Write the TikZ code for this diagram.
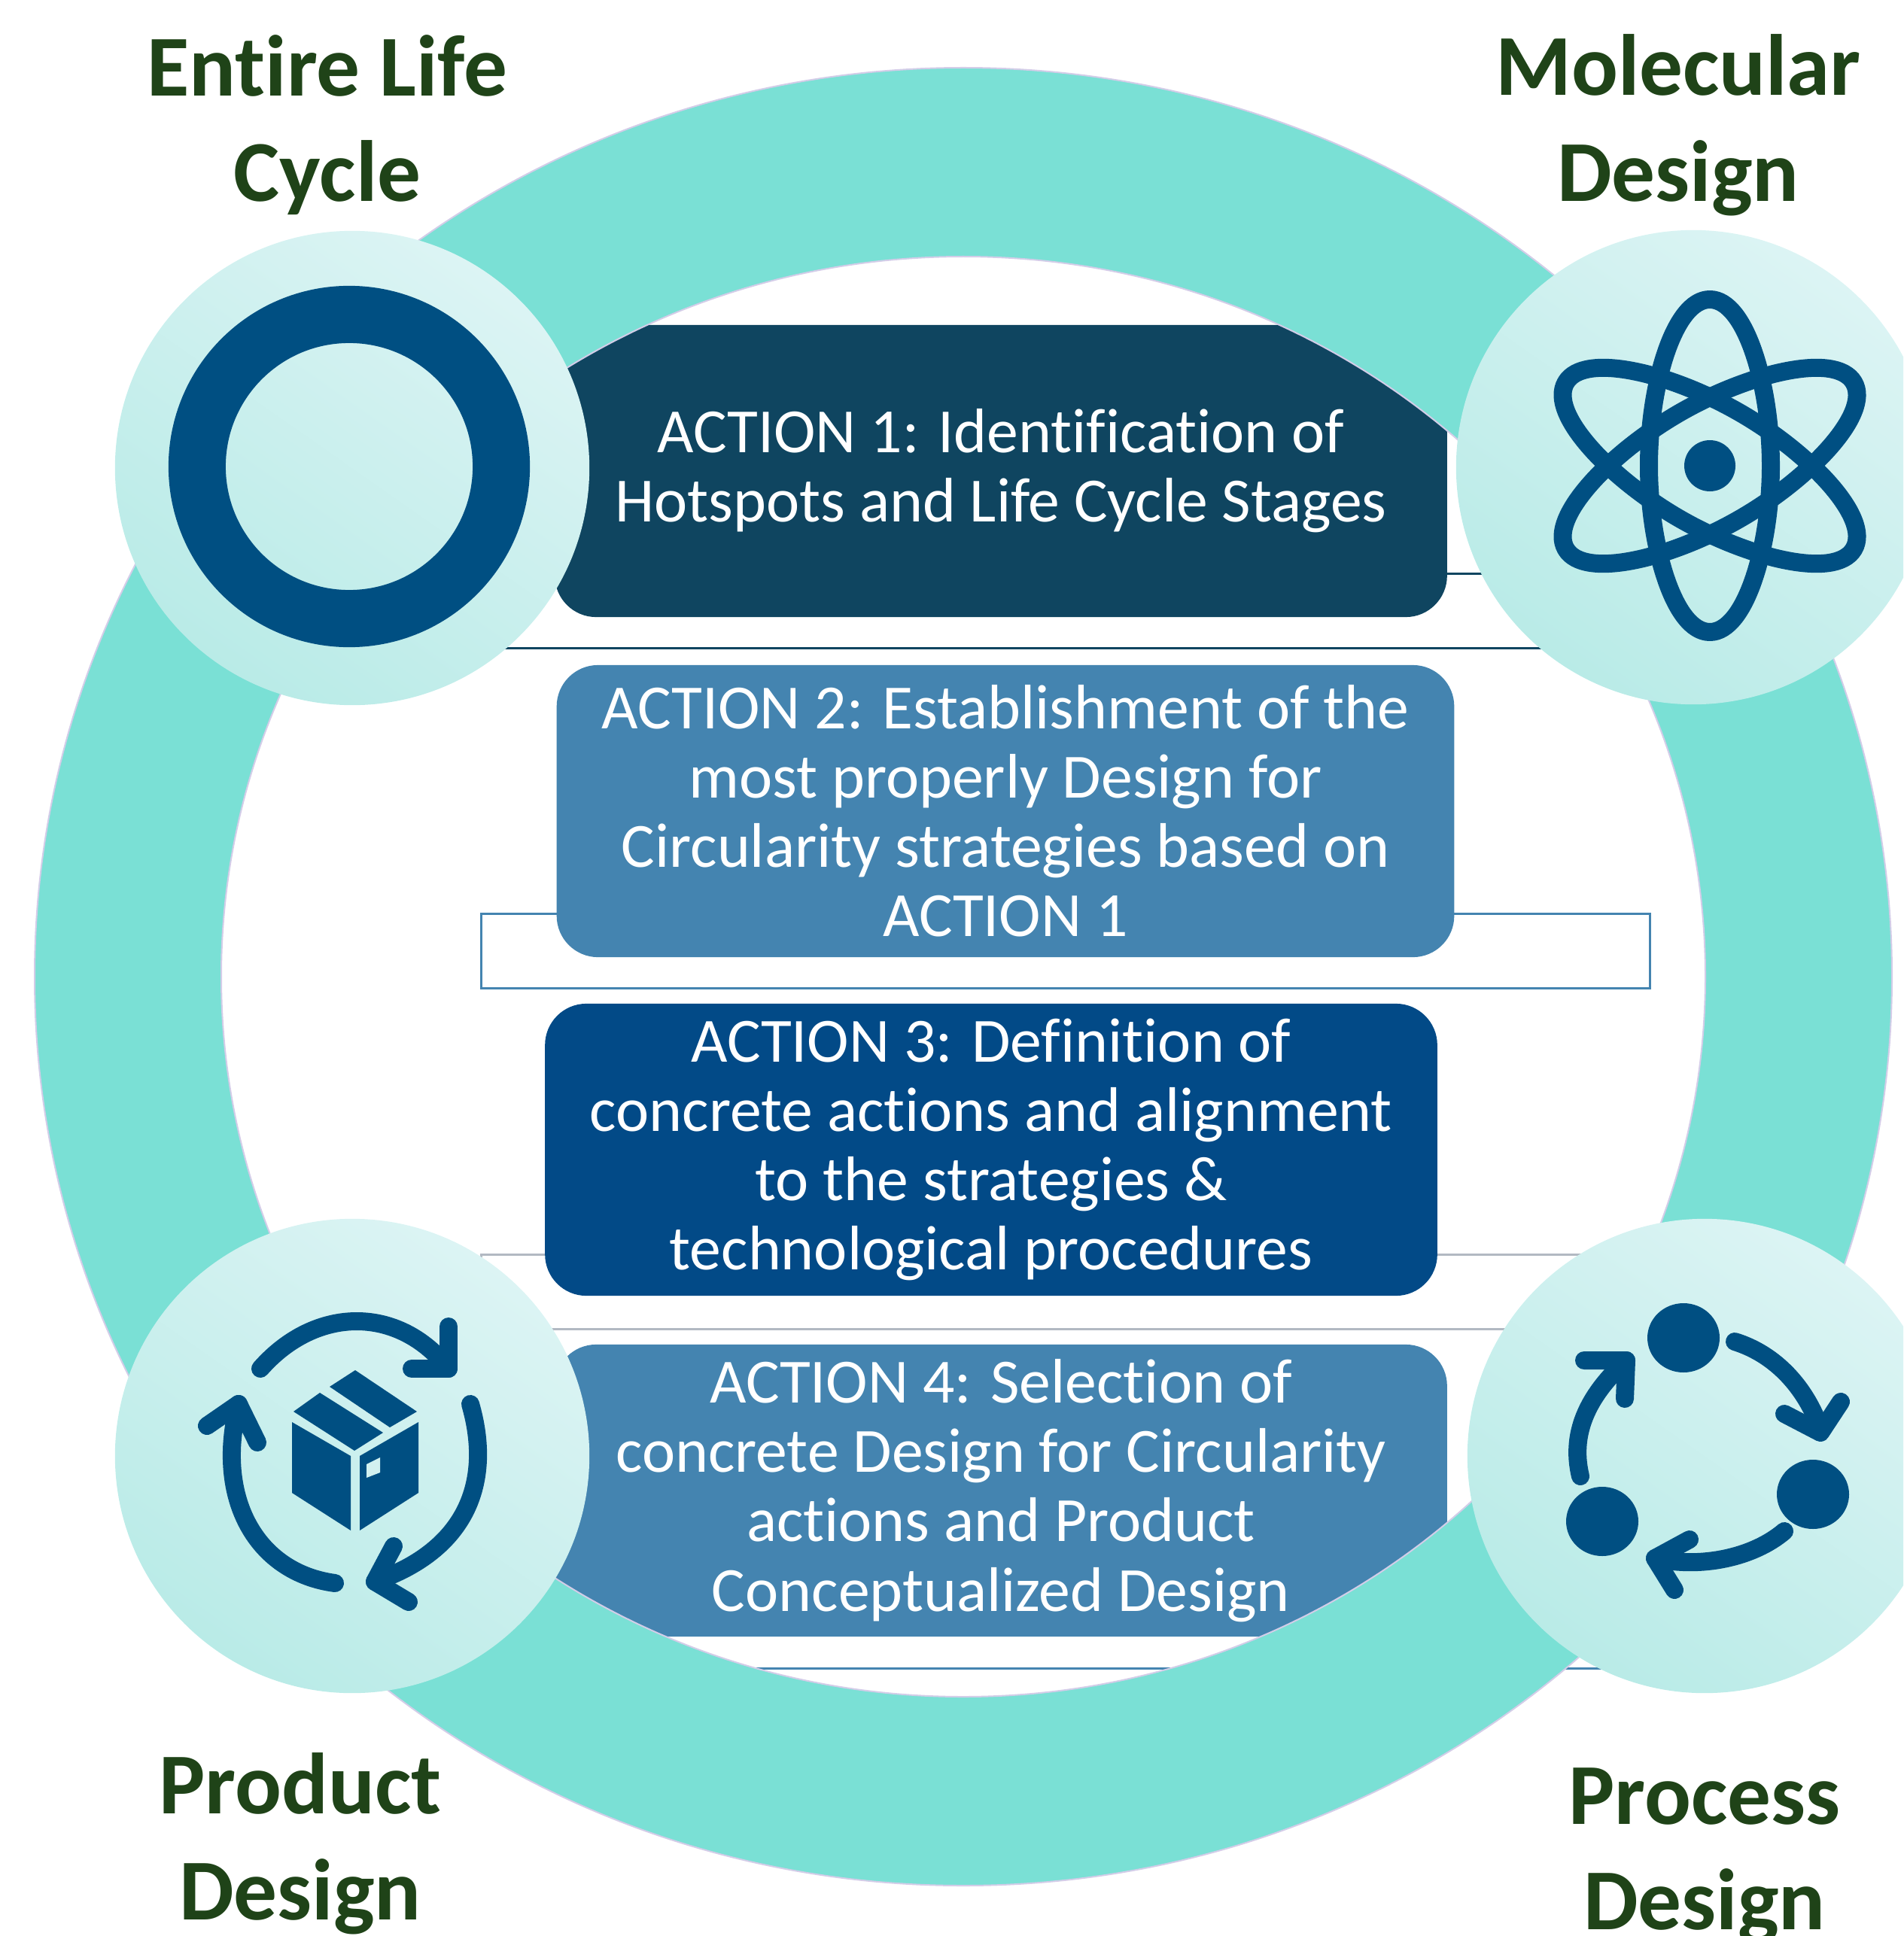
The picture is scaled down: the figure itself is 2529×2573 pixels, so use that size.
\documentclass[tikz,border=0pt]{standalone}
\usepackage{fontspec}
\setmainfont[Ligatures=NoCommon]{Carlito}
\definecolor{ringcol}{HTML}{7AE0D5}
\definecolor{ringedge}{HTML}{D3CDE8}
\definecolor{discup}{HTML}{DCF4F4}
\definecolor{disclow}{HTML}{B9EBE7}
\definecolor{iconblue}{HTML}{004F82}
\definecolor{darkteal}{HTML}{0F4560}
\definecolor{midblue}{HTML}{4484B0}
\definecolor{deepblue}{HTML}{024A87}
\definecolor{bandgrey}{HTML}{B2B9C2}
\definecolor{titlegreen}{HTML}{1F4318}
\tikzset{
  band/.style={draw=#1, line width=0.03cm, minimum width=15.52cm, minimum height=0.99cm},
  action/.style={fill=#1, text=white, rounded corners=0.55cm, align=center, inner sep=0pt,
    minimum width=11.85cm, minimum height=3.88cm, font=\fontsize{23.8}{26.2}\selectfont},
  disc/.style={circle, minimum size=6.3cm, inner sep=0pt, top color=discup, bottom color=disclow, shading angle=-35},
  title/.style={text=titlegreen, align=center, font=\bfseries\fontsize{32.8}{40}\selectfont},
  iconline/.style={draw=iconblue, line width=0.24cm, line cap=round, line join=round},
}
\begin{document}
\begin{tikzpicture}[x=0.01cm, y=-0.01cm]
    \clip (0,0) rectangle (2529,2573);

    \node[band=darkteal] (band1) at (1416,812) {};
    \node[band=midblue] (band2) at (1416,1264) {};
    \node[band=bandgrey] (band3) at (1416,1717) {};
    \node[band=midblue] (band4) at (1416,2168) {};

    \node[action=darkteal] (action1) at (1330,626) {ACTION 1: Identification of\\Hotspots and Life Cycle Stages};
    \node[action=midblue, minimum width=11.92cm] (action2) at (1336,1078) {ACTION 2: Establishment of the\\most properly Design for\\Circularity strategies based on\\ACTION 1};
    \node[action=deepblue] (action3) at (1317,1528) {ACTION 3: Definition of\\concrete actions and alignment\\to the strategies \&\\technological procedures};
    \node[action=midblue] (action4) at (1330,1981) {ACTION 4: Selection of\\concrete Design for Circularity\\actions and Product\\Conceptualized Design};

    % ring over the boxes
    \path[fill=ringcol, draw=ringedge, line width=0.02cm, even odd rule]
      (1280,1298) ellipse [x radius=1234, y radius=1208]
      (1280,1298) ellipse [x radius=986, y radius=957];

    \node[disc] (lifedisc) at (468,622) {};
    \node[disc] (moldisc) at (2250,621) {};
    \node[disc] (proddisc) at (468,1935) {};
    \node[disc] (procdisc) at (2265,1935) {};

    % life cycle icon
    \node[circle, draw=iconblue, line width=0.76cm, minimum size=4.04cm, inner sep=0pt] (lifeicon) at (464,620) {};

    % molecular icon
    \coordinate (atom) at (2272,619);
    \foreach \a in {0,60,-60}
      \draw[iconline, shift={(atom)}, rotate=\a] (0,-221) .. controls (48,-221) and (81,-105) .. (81,0)
        .. controls (81,105) and (48,221) .. (0,221) .. controls (-48,221) and (-81,105) .. (-81,0)
        .. controls (-81,-105) and (-48,-221) .. cycle;
    \fill[iconblue] (atom) circle [radius=34];

    % product icon
    \fill[iconblue] (388,1890) -- (466,1935) -- (466,2034) -- (388,1984) -- cycle;
    \fill[iconblue] (556,1890) -- (478,1935) -- (478,2034) -- (556,1984) -- cycle;
    \fill[iconblue] (390,1876) -- (425,1851) -- (509,1904) -- (471,1928) -- cycle;
    \fill[iconblue] (438,1843) -- (472,1821) -- (554,1876) -- (518,1897) -- cycle;
    \fill[discup!70!disclow] (487,1946) -- (505,1937) -- (505,1957) -- (487,1964) -- cycle;
    \draw[iconline] (346,1819) .. controls (420,1735) and (530,1735) .. (596,1819);
    \draw[iconline] (596,1763) -- (596,1819) -- (547,1819);
    \draw[iconline] (625,1866) .. controls (655,1970) and (620,2060) .. (498,2102);
    \draw[iconline] (523,2055) -- (498,2102) -- (543,2129);
    \draw[iconline] (445,2104) .. controls (340,2090) and (285,1990) .. (317,1866);
    \draw[iconline] (275,1895) -- (317,1866) -- (342,1917);

    % process icon
    \fill[iconblue] (2237,1778) circle [x radius=48, y radius=46];
    \fill[iconblue] (2409,1986) circle [x radius=48, y radius=46];
    \fill[iconblue] (2129,2022) circle [x radius=48, y radius=46];
    \draw[iconline] (2305,1783) .. controls (2360,1800) and (2400,1845) .. (2419,1900);
    \draw[iconline] (2371,1879) -- (2419,1904) -- (2446,1863);
    \draw[iconline] (2371,2035) .. controls (2330,2070) and (2260,2085) .. (2199,2071);
    \draw[iconline] (2245,2046) -- (2199,2071) -- (2225,2113);
    \draw[iconline] (2100,1962) .. controls (2085,1900) and (2115,1850) .. (2161,1808);
    \draw[iconline] (2105,1808) -- (2161,1808) -- (2159,1859);

    \node[title] (lifetitle) at (435,166) {Entire Life\\Cycle};
    \node[title] (moltitle) at (2230,166) {Molecular\\Design};
    \node[title] (prodtitle) at (399,2450) {Product\\Design};
    \node[title] (proctitle) at (2265,2467) {Process\\Design};
\end{tikzpicture}
\end{document}
